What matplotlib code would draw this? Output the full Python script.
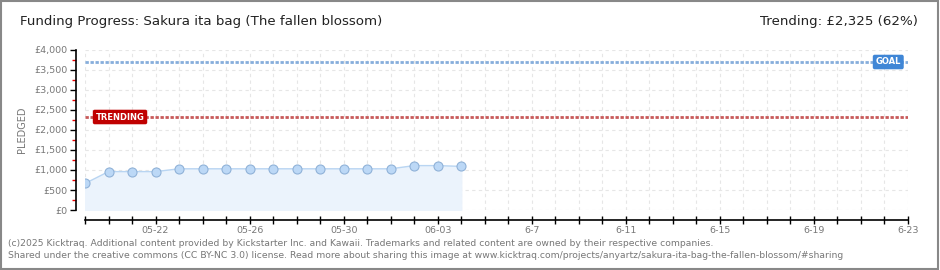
import pandas as pd
import numpy as np
import matplotlib.pyplot as plt
from matplotlib.ticker import MultipleLocator, FuncFormatter

start = pd.Timestamp("2025-05-19")
end = pd.Timestamp("2025-06-23")
dates = pd.date_range("2025-05-19", "2025-06-04", freq="D")
pledged = [663, 960, 960, 960, 1030, 1030, 1030, 1030, 1030, 1030, 1030, 1030, 1030, 1030, 1110, 1110, 1090]
goal = 3700
trending = 2325
label_dates = ["2025-05-22", "2025-05-26", "2025-05-30", "2025-06-03", "2025-06-07",
               "2025-06-11", "2025-06-15", "2025-06-19", "2025-06-23"]
label_days = ["05-22", "05-26", "05-30", "06-03", "6-7", "6-11", "6-15", "6-19", "6-23"]

x = (dates - start).days
total_days = (end - start).days

fig = plt.figure(figsize=(9.4, 2.7), dpi=100)
ax = fig.add_axes([85/940, 60/270, 823/940, 160/270])

#filled area, line and markers
ax.fill_between(x, pledged, 0, color="#ebf3fc", zorder=1)
ax.plot(x, pledged, color="#b9d5f2", lw=1, zorder=2)
ax.plot(x, pledged, "o", ms=6.5, mfc="#bcd8f6", mec="#90b2d8", mew=0.8, zorder=3)

#goal and trending lines
ax.axhline(goal, color="#86aedc", lw=2, ls=(0, (1.2, 0.6)), zorder=2)
ax.axhline(trending, color="#c85a5a", lw=2, ls=(0, (1.2, 0.6)), zorder=2)
ax.text(total_days - 0.3, goal, "GOAL", color="white", fontsize=6, fontweight="bold",
        ha="right", va="center", zorder=5,
        bbox=dict(boxstyle="round,pad=0.25,rounding_size=0.15", fc="#3f86d6", ec="#3f86d6"))
ax.text(0.45, trending, "TRENDING", color="white", fontsize=6, fontweight="bold",
        ha="left", va="center", zorder=5,
        bbox=dict(boxstyle="round,pad=0.25,rounding_size=0.15", fc="#c00000", ec="#c00000"))

ax.set_xlim(0, total_days)
ax.set_ylim(0, 4000)

#grid
ax.yaxis.set_major_locator(MultipleLocator(500))
ax.yaxis.set_minor_locator(MultipleLocator(250))
ax.grid(True, which="major", color="#e6e6e6", ls=(0, (3, 3)), lw=0.8)
ax.set_axisbelow(True)

#daily ticks, label every 4th day
tick_pos = [(pd.Timestamp(d) - start).days for d in label_dates]
labels = [""] * (total_days + 1)
for p, l in zip(tick_pos, label_days):
    labels[p] = l
ax.set_xticks(range(total_days + 1))
ax.set_xticklabels(labels)
ax.tick_params(axis="x", which="major", direction="inout", length=6, width=1, color="black",
               pad=1, labelsize=6.8, labelcolor="#777777")

ax.yaxis.set_major_formatter(FuncFormatter(lambda v, p: "£{:,.0f}".format(v)))
ax.tick_params(axis="y", which="major", direction="out", length=4, width=1, color="black",
               labelsize=6.8, labelcolor="#777777", pad=2)
ax.tick_params(axis="y", which="minor", direction="out", length=3, width=1, color="#ee0000")

for s in ["top", "right"]:
    ax.spines[s].set_visible(False)
ax.spines["left"].set_position(("outward", 6.5))
ax.spines["bottom"].set_position(("outward", 7.2))
ax.spines["left"].set_linewidth(1.2)
ax.spines["bottom"].set_linewidth(1.2)

ax.set_ylabel("PLEDGED", fontsize=7, color="#777777", labelpad=5)

fig.text(20/940, 1 - 22/270, "Funding Progress: Sakura ita bag (The fallen blossom)",
         fontsize=9.6, va="center", ha="left", color="#222222")
fig.text(918/940, 1 - 22/270, "Trending: £2,325 (62%)",
         fontsize=9.6, va="center", ha="right", color="#222222")
fig.text(8/940, 1 - 244/270,
         "(c)2025 Kicktraq. Additional content provided by Kickstarter Inc. and Kawaii. Trademarks and related content are owned by their respective companies.",
         fontsize=6.7, va="center", ha="left", color="#777777")
fig.text(8/940, 1 - 256/270,
         "Shared under the creative commons (CC BY-NC 3.0) license. Read more about sharing this image at www.kicktraq.com/projects/anyartz/sakura-ita-bag-the-fallen-blossom/#sharing",
         fontsize=6.7, va="center", ha="left", color="#777777")

#outer border
fig.patches.append(plt.Rectangle((0.001, 0.002), 0.997, 0.995, transform=fig.transFigure,
                                 fill=False, ec="#888888", lw=1.5))

plt.savefig("out.png", dpi=100)
